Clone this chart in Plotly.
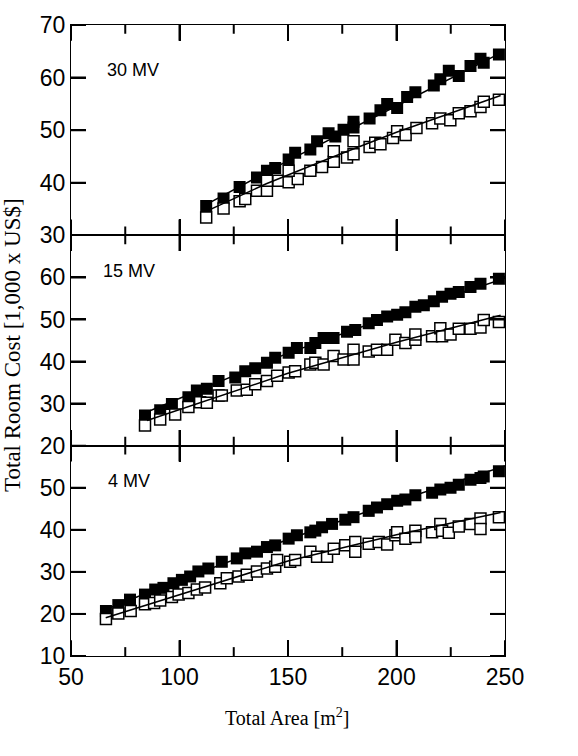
import plotly.graph_objects as go

# ---------------- data ----------------
# 30 MV panel
x30_f = [112.3, 120.3, 127.7, 135.7, 140.3, 144.1, 150.3, 153.3, 160.3, 163.4, 168.7, 171.8, 175.6, 180.2, 180.2,
         187.6, 192.6, 195.7, 200.3, 204.9, 208.7, 217.2, 220.2, 224.1, 228.7, 234.1, 238.7, 240.2, 247.2]
y30_f = [35.6, 37.0, 39.2, 41.0, 42.3, 42.8, 44.4, 45.7, 46.3, 47.9, 49.4, 48.8, 50.1, 51.6, 50.5,
         52.2, 53.8, 55.0, 54.2, 56.3, 57.2, 58.5, 59.7, 61.3, 60.3, 62.2, 63.6, 62.8, 64.4]
x30_o = [112.3, 120.3, 127.7, 130.3, 135.7, 140.3, 140.3, 145.6, 150.3, 154.5, 150.3, 160.3, 165.7, 171.1, 171.1,
         177.2, 180.2, 180.2, 187.6, 190.2, 192.6, 198.4, 200.3, 204.2, 209.2, 216.4, 220.2, 224.8, 228.7,
         234.1, 238.7, 240.2, 247.2]
y30_o = [33.4, 35.1, 36.5, 36.9, 38.5, 38.5, 40.4, 40.4, 40.1, 40.7, 42.3, 42.3, 43.0, 44.0, 46.0,
         44.8, 45.4, 47.9, 46.8, 47.6, 47.3, 48.5, 49.8, 49.1, 50.4, 51.3, 52.2, 51.9, 53.2,
         53.6, 54.4, 55.4, 55.8]
fit30_f_x = [112, 150, 200, 249]
fit30_f_y = [35.8, 44.2, 54.6, 64.9]
fit30_o_x = [114, 140, 170, 200, 248]
fit30_o_y = [34.9, 39.8, 44.8, 49.6, 56.6]

# 15 MV panel
x15_f = [84.1, 91.1, 96.5, 104.1, 108.0, 112.6, 118.0, 125.7, 130.3, 134.9, 140.3, 144.1, 150.3, 154.1, 160.3,
         162.6, 166.4, 171.0, 177.2, 181.0, 187.2, 191.0, 195.7, 200.3, 204.1, 208.7, 212.6, 217.2, 221.0,
         224.9, 228.7, 234.1, 238.7, 247.2]
y15_f = [27.2, 28.4, 29.9, 31.5, 33.1, 33.5, 35.4, 36.2, 37.7, 38.4, 39.7, 40.9, 42.1, 43.2, 43.2,
         44.4, 45.6, 45.6, 47.1, 47.5, 49.1, 49.9, 50.7, 51.1, 51.7, 53.0, 53.4, 54.3, 55.4,
         56.1, 56.5, 57.7, 58.5, 59.7]
x15_o = [84.1, 91.1, 98.0, 104.1, 109.5, 112.6, 118.0, 119.5, 126.4, 131.0, 134.9, 140.3, 145.0, 150.3, 153.3,
         160.3, 162.6, 166.4, 171.0, 175.6, 180.2, 180.2, 187.2, 191.0, 195.7, 199.5, 204.1, 208.7, 208.7,
         216.4, 220.2, 221.0, 224.9, 228.7, 234.1, 238.7, 240.2, 247.2]
y15_o = [24.8, 26.2, 27.4, 29.2, 30.3, 30.2, 31.9, 31.9, 33.1, 33.3, 34.6, 35.4, 36.6, 37.4, 37.7,
         39.3, 39.7, 39.3, 41.3, 40.5, 42.8, 40.5, 42.4, 42.8, 42.8, 45.2, 44.4, 45.2, 46.4,
         46.0, 47.9, 46.0, 46.4, 47.8, 47.8, 48.1, 49.9, 49.4]
fit15_f_x = [85, 110, 150, 200, 250]
fit15_f_y = [28.0, 33.4, 42.0, 51.2, 59.8]
fit15_o_x = [85, 110, 150, 200, 248]
fit15_o_y = [26.0, 30.3, 37.2, 44.6, 51.0]

# 4 MV panel
x4_f = [66.1, 71.8, 77.2, 84.1, 88.8, 92.6, 97.2, 101.1, 104.9, 108.7, 113.3, 119.5, 126.4, 130.3, 135.7,
        140.3, 144.1, 150.3, 154.1, 160.3, 162.6, 165.7, 170.3, 176.4, 180.2, 187.2, 191.0, 195.7, 200.3,
        204.1, 208.7, 216.4, 220.2, 224.9, 228.7, 234.1, 238.7, 240.2, 247.2]
y4_f = [20.7, 22.1, 23.4, 24.6, 25.8, 26.2, 27.3, 28.1, 28.9, 30.1, 30.8, 32.4, 33.2, 34.4, 34.8,
        35.9, 36.3, 37.9, 38.7, 39.4, 39.8, 40.6, 41.4, 42.4, 43.0, 44.5, 45.3, 46.1, 46.9,
        47.2, 48.2, 48.8, 49.6, 50.0, 50.7, 51.9, 52.3, 52.7, 53.9]
x4_o = [66.1, 71.8, 77.5, 84.1, 88.3, 91.1, 96.5, 99.6, 104.1, 108.0, 111.8, 118.8, 121.8, 127.2, 131.0,
        135.7, 140.3, 144.1, 145.0, 151.0, 153.3, 160.3, 163.4, 168.0, 171.1, 176.4, 181.0, 181.0, 187.2,
        191.8, 195.7, 199.5, 200.3, 204.1, 208.7, 208.7, 216.4, 220.2, 221.0, 224.1, 228.7, 234.1, 238.7,
        238.7, 247.2]
y4_o = [18.8, 20.1, 20.7, 22.3, 22.6, 23.2, 24.0, 24.6, 25.0, 25.8, 26.3, 27.3, 28.5, 28.9, 29.3,
        30.1, 30.8, 31.2, 32.8, 32.4, 32.8, 34.8, 33.6, 33.6, 35.5, 36.3, 37.1, 34.8, 36.7,
        37.1, 36.5, 38.7, 39.4, 37.9, 39.8, 38.3, 39.4, 41.4, 39.8, 39.3, 40.8, 41.4, 42.7,
        40.2, 43.0]
fit4_f_x = [66, 100, 150, 200, 250]
fit4_f_y = [21.1, 28.0, 37.7, 46.8, 55.2]
fit4_o_x = [66, 100, 150, 200, 248]
fit4_o_y = [19.1, 24.6, 32.6, 38.8, 44.1]

panel_labels = ["30 MV", "15 MV", "4 MV"]
y_ranges = [[30, 70], [20, 70], [10, 60]]
y_ticks = [[30, 40, 50, 60, 70], [20, 30, 40, 50, 60], [10, 20, 30, 40, 50]]
x_range = [50, 250]
x_ticks = [50, 100, 150, 200, 250]
x_minor_ticks = [75, 125, 175, 225]
label_pos = [(65.7, 61.4), (63.7, 61.6), (66.1, 51.5)]

panels = [
    (x30_f, y30_f, x30_o, y30_o, fit30_f_x, fit30_f_y, fit30_o_x, fit30_o_y),
    (x15_f, y15_f, x15_o, y15_o, fit15_f_x, fit15_f_y, fit15_o_x, fit15_o_y),
    (x4_f, y4_f, x4_o, y4_o, fit4_f_x, fit4_f_y, fit4_o_x, fit4_o_y),
]

# ---------------- layout geometry ----------------
W, H = 578, 756
ML, MR, MT, MB = 71, 73, 15, 100
plot_w = W - ML - MR
panel_h = (H - MT - MB) / 3.0
MAJOR_LEN, MINOR_LEN, YTICK_LEN = 16, 9, 15

# ---------------- figure ----------------
fig = go.Figure()
MS = 12
for i, (xf, yf, xo, yo, fxf, fyf, fxo, fyo) in enumerate(panels):
    xa = "x" if i == 0 else f"x{i+1}"
    ya = "y" if i == 0 else f"y{i+1}"
    fig.add_trace(go.Scatter(x=xf, y=yf, mode="markers", xaxis=xa, yaxis=ya,
                             marker=dict(symbol="square", size=MS, color="black",
                                         line=dict(width=0)), showlegend=False))
    fig.add_trace(go.Scatter(x=xo, y=yo, mode="markers", xaxis=xa, yaxis=ya,
                             marker=dict(symbol="square", size=MS - 1, color="white",
                                         line=dict(width=1.5, color="black")), showlegend=False))
    fig.add_trace(go.Scatter(x=fxf, y=fyf, mode="lines", xaxis=xa, yaxis=ya,
                             line=dict(color="black", width=1.5), showlegend=False))
    fig.add_trace(go.Scatter(x=fxo, y=fyo, mode="lines", xaxis=xa, yaxis=ya,
                             line=dict(color="black", width=1.5), showlegend=False))

    # tick marks (inside, on all four sides), lengths converted from pixels to axis units
    lo, hi = y_ranges[i]
    y_per_px = (hi - lo) / panel_h
    x_per_px = (x_range[1] - x_range[0]) / plot_w
    tx, ty = [], []
    for xv, ln in [(v, MAJOR_LEN) for v in x_ticks] + [(v, MINOR_LEN) for v in x_minor_ticks]:
        d = ln * y_per_px
        tx += [xv, xv, None, xv, xv, None]
        ty += [lo, lo + d, None, hi, hi - d, None]
    dx = YTICK_LEN * x_per_px
    for yv in y_ticks[i]:
        tx += [x_range[0], x_range[0] + dx, None, x_range[1], x_range[1] - dx, None]
        ty += [yv, yv, None, yv, yv, None]
    fig.add_trace(go.Scatter(x=tx, y=ty, mode="lines", xaxis=xa, yaxis=ya,
                             line=dict(color="black", width=2), hoverinfo="skip",
                             showlegend=False, connectgaps=False))

tickfont = dict(family="Liberation Sans, Arial, sans-serif", size=23, color="black")
domains = [[2/3, 1.0], [1/3, 2/3], [0.0, 1/3]]
layout = dict(
    width=W, height=H,
    margin=dict(l=ML, r=MR, t=MT, b=MB),
    paper_bgcolor="white", plot_bgcolor="white",
)
for i in range(3):
    xk = "xaxis" if i == 0 else f"xaxis{i+1}"
    yk = "yaxis" if i == 0 else f"yaxis{i+1}"
    ya = "y" if i == 0 else f"y{i+1}"
    xa = "x" if i == 0 else f"x{i+1}"
    layout[xk] = dict(
        range=x_range, tickmode="array", tickvals=x_ticks, ticks="inside", ticklen=MAJOR_LEN,
        tickwidth=2, tickcolor="black",
        showline=True, linecolor="black", linewidth=1.3,
        mirror="ticks", showgrid=False, zeroline=False, anchor=ya, showticklabels=(i == 2),
        tickfont=tickfont,
    )
    layout[yk] = dict(
        domain=domains[i], range=y_ranges[i], tickmode="array", tickvals=y_ticks[i],
        ticks="inside", ticklen=YTICK_LEN, tickwidth=2, tickcolor="black", showline=True,
        linecolor="black", linewidth=1.3, mirror="ticks", showgrid=False, zeroline=False,
        anchor=xa, tickfont=tickfont,
    )
fig.update_layout(**layout)

annotations = []
for i, txt in enumerate(panel_labels):
    xr = "x" if i == 0 else f"x{i+1}"
    yr = "y" if i == 0 else f"y{i+1}"
    annotations.append(dict(text=txt, x=label_pos[i][0], y=label_pos[i][1], xref=xr, yref=yr,
                            xanchor="left", yanchor="middle", showarrow=False,
                            font=dict(family="Liberation Sans, Arial, sans-serif", size=18,
                                      color="black")))
annotations.append(dict(text="Total Room Cost [1,000 x US$]", x=(13 - ML) / plot_w, y=0.493,
                        xref="paper", yref="paper", textangle=-90, showarrow=False,
                        xanchor="center", yanchor="middle",
                        font=dict(family="Liberation Serif, Times New Roman, serif", size=23,
                                  color="black")))
annotations.append(dict(text="Total Area [m<sup>2</sup>]", x=0.498, y=-0.097,
                        xref="paper", yref="paper", showarrow=False,
                        xanchor="center", yanchor="middle",
                        font=dict(family="Liberation Serif, Times New Roman, serif", size=20,
                                  color="black")))
fig.update_layout(annotations=annotations)

fig.write_html("out.html")
